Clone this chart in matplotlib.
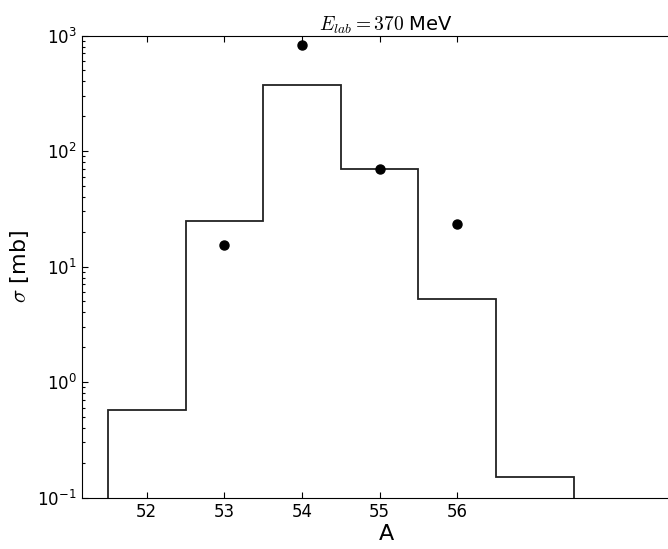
import matplotlib
matplotlib.use("Agg")
import matplotlib.pyplot as plt
import matplotlib.ticker as ticker
import numpy as np

# Dados
massas = [52, 53, 54, 55, 56, 57]
sigma_calc = [0.57, 25, 375, 70, 5.2, 0.15]

massas_exp = [53, 54, 55, 56]
sigma_exp = [15.4, 820, 70, 23.2]

plt.rcParams["mathtext.fontset"] = "cm"
plt.rcParams["xtick.direction"] = "in"
plt.rcParams["ytick.direction"] = "in"
plt.rcParams["xtick.top"] = True
plt.rcParams["ytick.right"] = True
plt.rcParams["xtick.major.size"] = 4
plt.rcParams["ytick.major.size"] = 4
plt.rcParams["ytick.minor.size"] = 2.5
plt.rcParams["ytick.minor.width"] = 0.8
plt.rcParams["xtick.major.pad"] = 4
plt.rcParams["ytick.major.pad"] = 4

fig = plt.figure(figsize=(6.68, 5.49), dpi=100)
ax = fig.add_axes([82 / 668, 1 - 497.5 / 549, 608 / 668, 462 / 549])

bordas = np.append(np.array(massas) - 0.5, massas[-1] + 0.5)
ax.stairs(sigma_calc, bordas, baseline=1e-5, color="#222222", linewidth=1.3)
ax.plot(massas_exp, sigma_exp, "o", color="k", markersize=6.5)

ax.set_yscale("log")
ax.set_ylim(0.1, 1000)
ax.yaxis.set_minor_locator(ticker.LogLocator(base=10, subs=np.arange(2, 10), numticks=20))
ax.yaxis.set_minor_formatter(ticker.NullFormatter())
ax.set_xlim(51.166, 59)
ax.set_xticks([52, 53, 54, 55, 56])
ax.tick_params(labelsize=12)

ax.set_xlabel("A", fontsize=16, labelpad=2)
ax.set_ylabel(r"$\sigma$ [mb]", fontsize=16, labelpad=4)
ax.set_title(r"$E_{lab} = 370$ MeV", fontsize=14, pad=3)

fig.savefig("out.png", dpi=100)
plt.close()
